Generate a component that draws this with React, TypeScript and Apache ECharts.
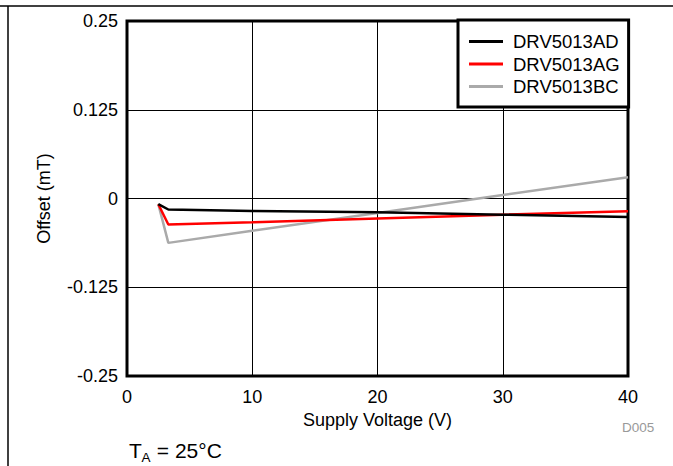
import React, { useEffect, useRef } from "react";
import * as echarts from "echarts";

const voltage = [2.5, 3.3, 10, 20, 30, 40];
const drv5013AD = [-0.008, -0.0155, -0.0175, -0.0195, -0.0228, -0.026];
const drv5013AG = [-0.008, -0.0367, -0.0335, -0.0282, -0.0228, -0.018];
const drv5013BC = [-0.008, -0.0625, -0.0455, -0.0205, 0.005, 0.03];
const seriesNames = ["DRV5013AD", "DRV5013AG", "DRV5013BC"];
const seriesColors = ["#000000", "#ff0000", "#aaaaaa"];
const xTicks = [0, 10, 20, 30, 40];
const yTicks = [-0.25, -0.125, 0, 0.125, 0.25];

const FONT = "'Liberation Sans', Arial, sans-serif";

export default function App() {
  const ref = useRef<HTMLDivElement>(null);
  useEffect(() => {
    if (!ref.current) return;
    const chart = echarts.init(ref.current, null, { renderer: "svg" });
    const all = [drv5013AD, drv5013AG, drv5013BC];
    chart.setOption({
      animation: false,
      backgroundColor: "#ffffff",
      textStyle: { fontFamily: FONT },
      grid: {
        left: 127,
        right: 45,
        top: 21,
        bottom: 90,
        show: true,
        borderColor: "#000",
        borderWidth: 3,
        backgroundColor: "transparent",
      },
      xAxis: {
        type: "value",
        min: xTicks[0],
        max: xTicks[xTicks.length - 1],
        interval: 10,
        name: "Supply Voltage (V)",
        nameLocation: "middle",
        nameGap: 34,
        nameTextStyle: { fontSize: 18, color: "#000", fontFamily: FONT },
        axisLine: { show: false },
        axisTick: { show: false },
        axisLabel: { fontSize: 18, color: "#000", margin: 12, fontFamily: FONT },
        splitLine: { show: true, lineStyle: { color: "#000", width: 1 } },
      },
      yAxis: {
        type: "value",
        min: yTicks[0],
        max: yTicks[yTicks.length - 1],
        interval: 0.125,
        name: "Offset (mT)",
        nameLocation: "middle",
        nameRotate: 90,
        nameGap: 74,
        nameTextStyle: { fontSize: 18, color: "#000", fontFamily: FONT },
        axisLine: { show: false },
        axisTick: { show: false },
        axisLabel: {
          fontSize: 18,
          color: "#000",
          margin: 9,
          fontFamily: FONT,
          formatter: (v: number) => String(v),
        },
        splitLine: { show: true, lineStyle: { color: "#000", width: 1 } },
      },
      legend: {
        orient: "vertical",
        left: 458,
        top: 20,
        data: seriesNames,
        icon: "rect",
        itemWidth: 34,
        itemHeight: 3,
        itemGap: 3.5,
        padding: [12, 9, 11, 11],
        backgroundColor: "#fff",
        borderColor: "#000",
        borderWidth: 3,
        borderRadius: 0,
        textStyle: {
          fontSize: 18.5,
          color: "#000",
          lineHeight: 18,
          padding: [0, 0, 0, 5],
          fontFamily: FONT,
        },
      },
      series: seriesNames.map((name, i) => ({
        name,
        type: "line",
        data: voltage.map((v, j) => [v, all[i][j]]),
        symbol: "none",
        lineStyle: { color: seriesColors[i], width: 2.5 },
        itemStyle: { color: seriesColors[i] },
        z: 3 - i,
      })),
      graphic: [
        { type: "line", shape: { x1: 0, y1: 6, x2: 673, y2: 6 }, style: { stroke: "#000", lineWidth: 1.5 } },
        { type: "line", shape: { x1: 8, y1: 6, x2: 8, y2: 466 }, style: { stroke: "#000", lineWidth: 1.5 } },
        {
          type: "text",
          left: 622,
          top: 420,
          style: { text: "D005", fontSize: 13.5, fill: "#999", fontFamily: FONT },
        },
        {
          type: "text",
          x: 129,
          y: 450,
          style: { text: "T", fontSize: 21, fill: "#000", fontFamily: FONT, verticalAlign: "middle" },
        },
        {
          type: "text",
          x: 141.5,
          y: 457,
          style: { text: "A", fontSize: 13.5, fill: "#000", fontFamily: FONT, verticalAlign: "middle" },
        },
        {
          type: "text",
          x: 151,
          y: 450,
          style: { text: " = 25°C", fontSize: 21, fill: "#000", fontFamily: FONT, verticalAlign: "middle" },
        },
      ],
    });
    return () => chart.dispose();
  }, []);
  return (
    <div
      ref={ref}
      style={{ position: "fixed", left: 0, top: 0, width: 673, height: 466 }}
    />
  );
}
